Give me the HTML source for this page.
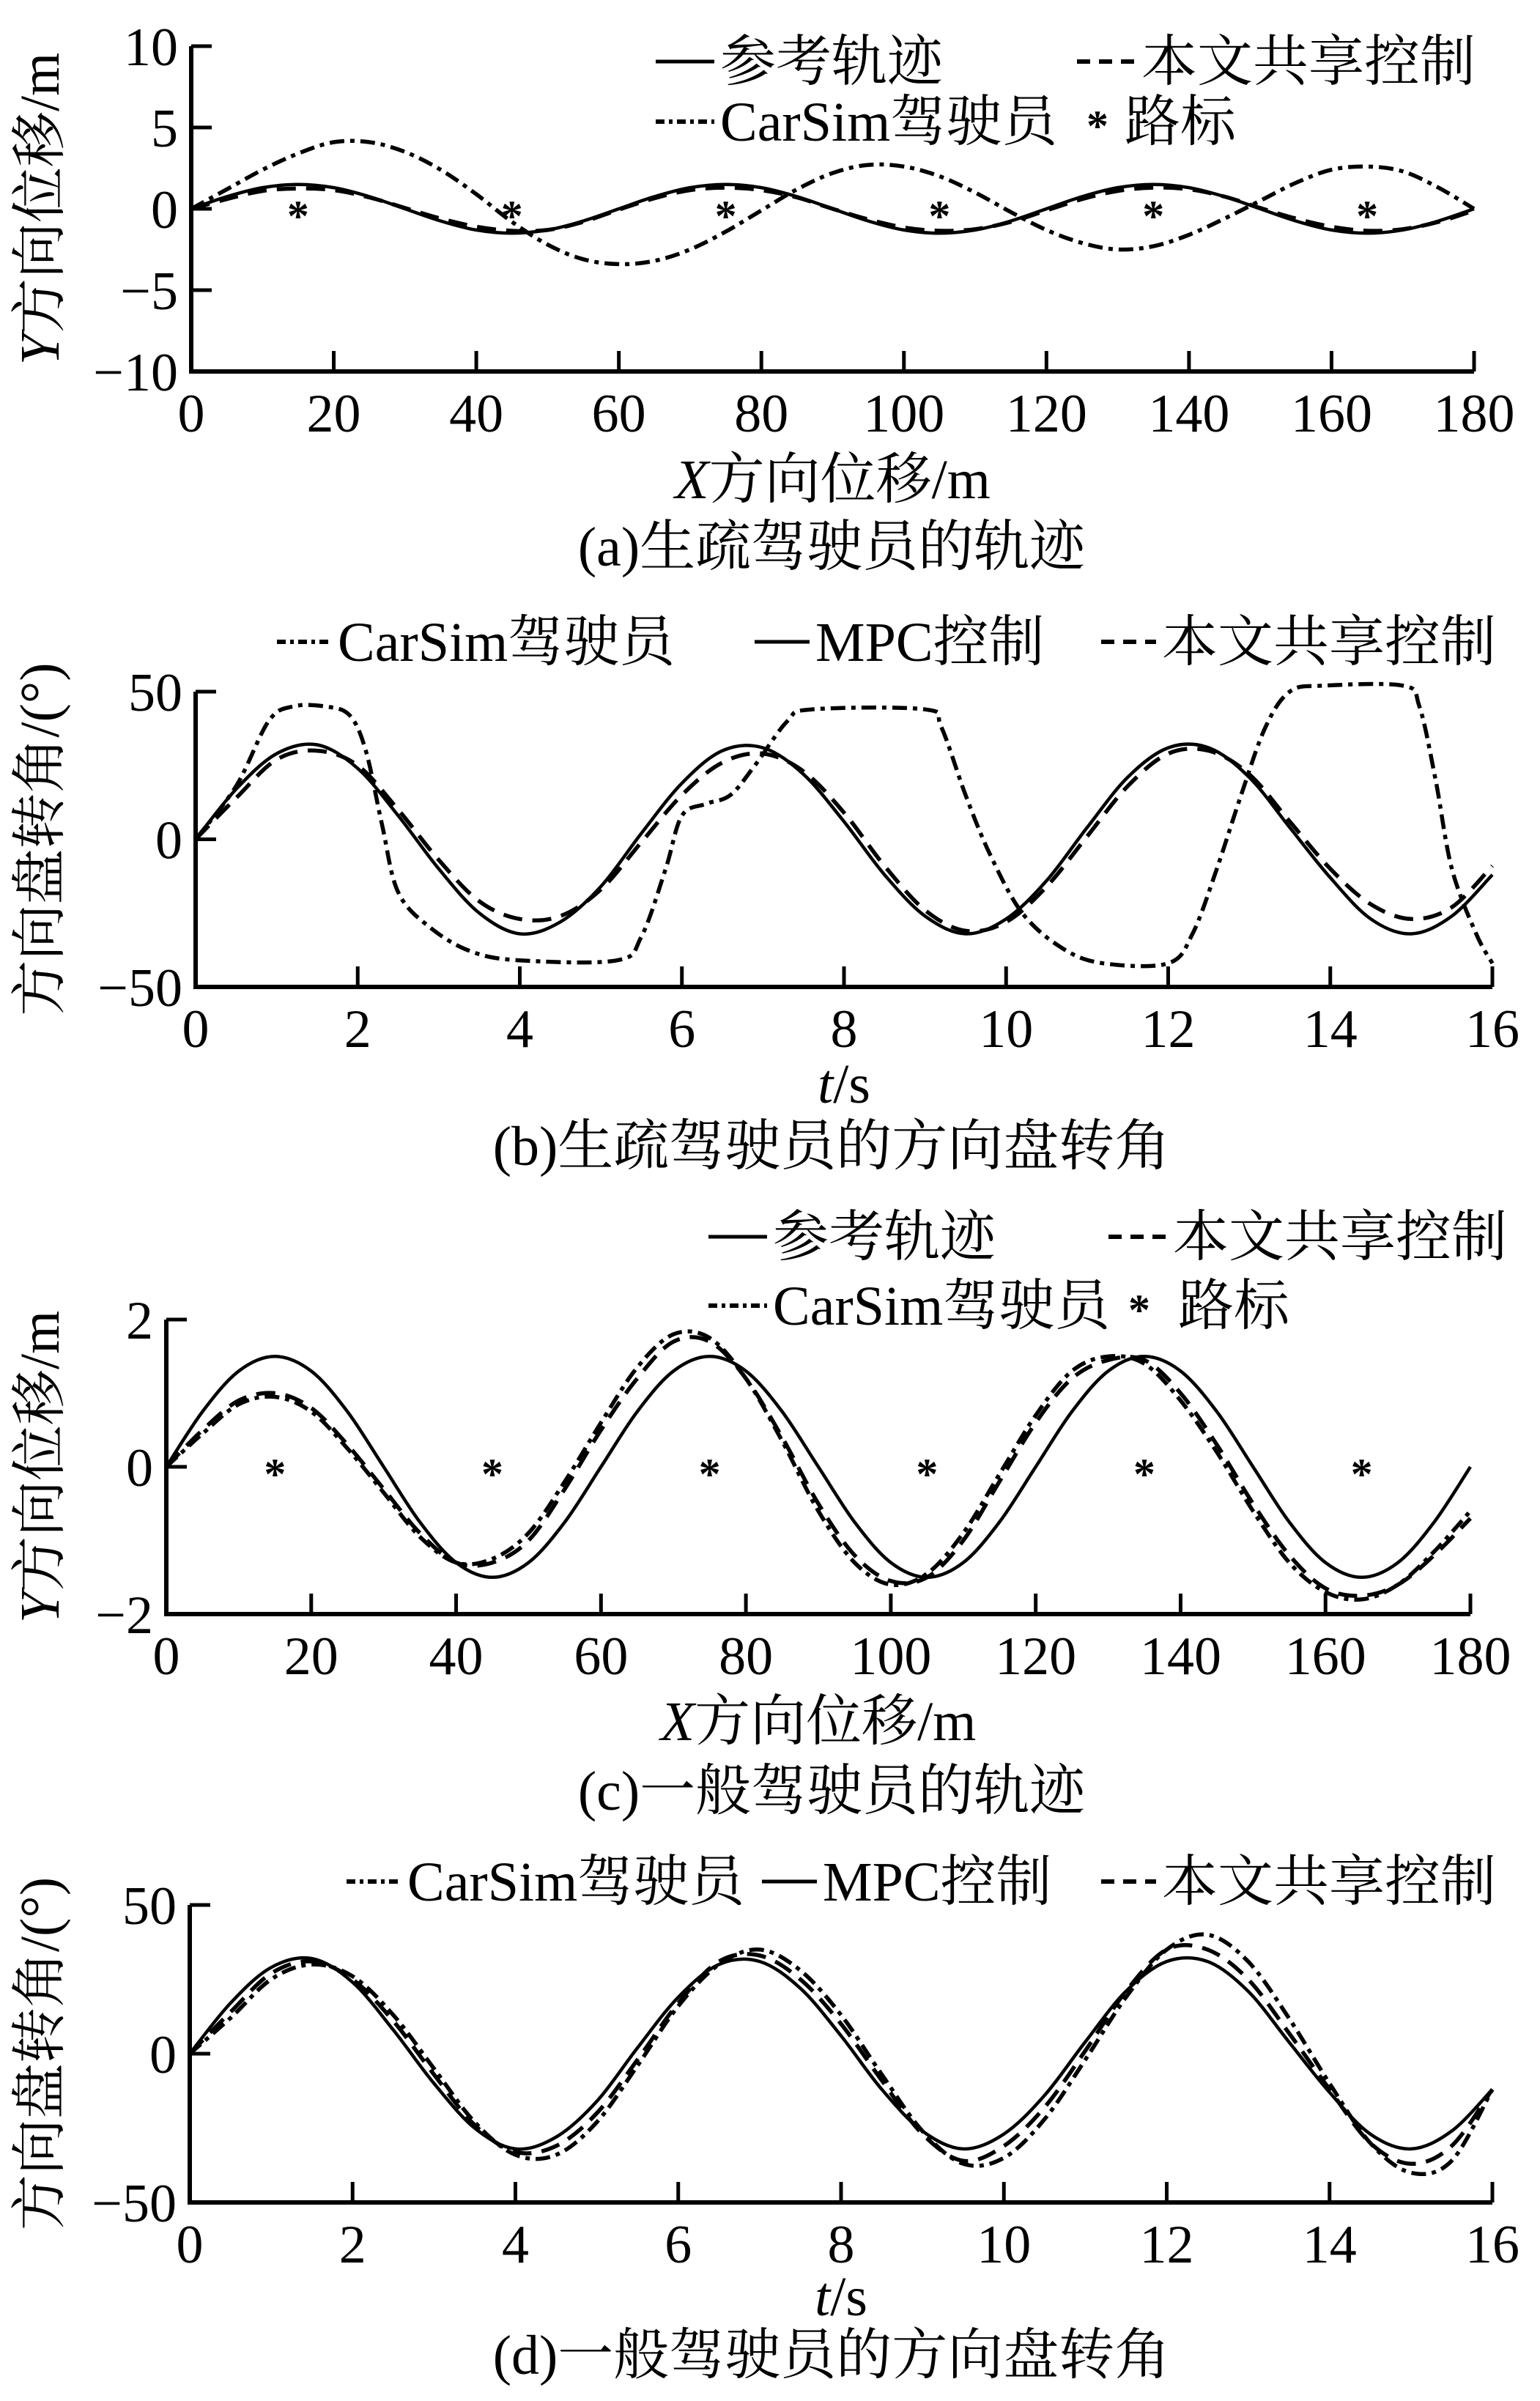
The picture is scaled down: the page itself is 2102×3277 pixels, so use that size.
<!DOCTYPE html>
<html><head><meta charset="utf-8">
<style>
html,body{margin:0;padding:0;background:#fff;}
svg{display:block;}
text{font-family:"Liberation Serif","Noto Serif CJK SC",serif;fill:#000;}
</style></head>
<body>
<svg id="fig" xmlns="http://www.w3.org/2000/svg" width="2102" height="3277" viewBox="0 0 2102 3277"></svg>
<script>
// ---------- data ----------
const xTicksPos = [0,20,40,60,80,100,120,140,160,180];
const tTicks = [0,2,4,6,8,10,12,14,16];
const yTicksA = [10,5,0,-5,-10];
const yTicksB = [50,0,-50];
const yTicksC = [2,0,-2];
const xStep5 = [0,5,10,15,20,25,30,35,40,45,50,55,60,65,70,75,80,85,90,95,100,105,110,115,120,125,130,135,140,145,150,155,160,165,170,175,180];
const tStep05 = [0,0.5,1,1.5,2,2.5,3,3.5,4,4.5,5,5.5,6,6.5,7,7.5,8,8.5,9,9.5,10,10.5,11,11.5,12,12.5,13,13.5,14,14.5,15,15.5,16];
const waypointsX = [15,45,75,105,135,165];
const waypointsY = [0,0,0,0,0,0];

const refPath = [0,0.75,1.3,1.5,1.3,0.75,0,-0.75,-1.3,-1.5,-1.3,-0.75,0,0.75,1.3,1.5,1.3,0.75,0,-0.75,-1.3,-1.5,-1.3,-0.75,0,0.75,1.3,1.5,1.3,0.75,0,-0.75,-1.3,-1.5,-1.3,-0.75,0];
const sharedA = [0,0.6,1.1,1.25,1.15,0.7,0.05,-0.6,-1.1,-1.35,-1.3,-0.8,-0.05,0.65,1.15,1.3,1.15,0.7,0,-0.65,-1.15,-1.35,-1.25,-0.8,-0.1,0.6,1.1,1.3,1.2,0.75,0.05,-0.6,-1.1,-1.35,-1.25,-0.8,-0.1];
const carsimA = [0,1.2,2.4,3.4,4.1,4.1,3.5,2.4,0.9,-0.8,-2.2,-3.1,-3.4,-3.2,-2.5,-1.4,-0.1,1.2,2.2,2.7,2.6,2.0,1.0,-0.2,-1.3,-2.1,-2.5,-2.3,-1.6,-0.6,0.5,1.6,2.4,2.6,2.3,1.3,0];

const mpcB = [0,17,29,32,24,8,-10,-25,-32,-28,-16,2,19,30,31,22,6,-12,-26,-32,-27,-14,4,21,31,31,21,4,-13,-27,-32,-26,-12];
const sharedB = [0,14,27,30,25,10,-7,-21,-27,-26,-17,-1,15,26,29,23,9,-9,-24,-31,-28,-16,1,18,29,30,22,6,-10,-22,-27,-23,-9];
const carsimBt = [0,0.5,0.9,1.2,1.6,1.9,2.1,2.3,2.5,2.9,3.4,4,5.2,5.5,5.8,6,6.3,6.6,6.9,7.3,7.6,9,9.2,9.5,9.8,10.2,10.7,11.2,12,12.3,12.6,12.9,13.2,13.5,13.9,14.9,15.1,15.3,15.5,15.8,16];
const carsimBv = [0,18,40,45,45,42,30,5,-18,-30,-38,-41,-41,-33,-10,8,12,15,25,40,44,44,38,15,-5,-25,-37,-42,-42,-32,-10,15,38,50,52,52,45,20,-10,-32,-42];

const sharedC = [0,0.5,0.9,1.0,0.8,0.3,-0.3,-0.9,-1.3,-1.3,-1.0,-0.3,0.5,1.2,1.7,1.7,1.2,0.4,-0.5,-1.2,-1.55,-1.5,-1.0,-0.2,0.6,1.2,1.45,1.45,1.0,0.3,-0.5,-1.2,-1.65,-1.75,-1.6,-1.2,-0.7];
const carsimC = [0,0.45,0.85,0.95,0.75,0.25,-0.35,-0.95,-1.3,-1.25,-0.9,-0.2,0.6,1.35,1.8,1.75,1.2,0.35,-0.6,-1.3,-1.6,-1.45,-0.9,-0.1,0.7,1.3,1.5,1.4,0.9,0.2,-0.6,-1.3,-1.7,-1.8,-1.6,-1.15,-0.6];

const mpcD = mpcB;
const sharedD = [0,14,27,31,25,11,-7,-24,-33,-31,-20,-2,17,31,33,25,10,-9,-27,-36,-31,-18,1,21,35,35,25,7,-12,-30,-37,-31,-12];
const carsimD = [0,12,25,30,26,13,-5,-23,-34,-34,-23,-4,16,30,35,28,13,-7,-26,-37,-35,-22,-2,19,35,40,31,12,-10,-30,-40,-36,-12];

// ---------- helpers ----------
const NS = "http://www.w3.org/2000/svg";
const svg = document.getElementById('fig');
function mk(tag, attrs, parent){
  const e = document.createElementNS(NS, tag);
  for (const k in attrs) e.setAttribute(k, attrs[k]);
  (parent||svg).appendChild(e);
  return e;
}
function smoothPath(pts){
  let d = "M"+pts[0][0].toFixed(1)+","+pts[0][1].toFixed(1);
  for (let i=0;i<pts.length-1;i++){
    const p0=pts[i-1]||pts[i], p1=pts[i], p2=pts[i+1], p3=pts[i+2]||p2;
    const c1=[p1[0]+(p2[0]-p0[0])/6, p1[1]+(p2[1]-p0[1])/6];
    const c2=[p2[0]-(p3[0]-p1[0])/6, p2[1]-(p3[1]-p1[1])/6];
    d+=" C"+c1[0].toFixed(1)+","+c1[1].toFixed(1)+" "+c2[0].toFixed(1)+","+c2[1].toFixed(1)+" "+p2[0].toFixed(1)+","+p2[1].toFixed(1);
  }
  return d;
}
const STY = {
  solid:{w:4.5,dash:""},
  dash:{w:5.5,dash:"26 14"},
  dashdot:{w:5.5,dash:"20 8 6 8"}
};
function addText(str, x, y, size, anchor, name, extra){
  const t = mk('text', Object.assign({x:x,y:y,'font-size':size,'text-anchor':anchor||'middle'}, extra||{}));
  
  
  t.textContent = str;
  return t;
}
function addRichText(italic, rest, x, y, size, anchor, name, extra){
  const t = mk('text', Object.assign({x:x,y:y,'font-size':size,'text-anchor':anchor||'middle'}, extra||{}));
  
  
  const a = mk('tspan',{'font-style':'italic'},t);
  a.textContent = italic;
  const b = mk('tspan',{},t);
  b.textContent = rest;
  return t;
}

function panel(cfg){
  const g = mk('g', {});
  
  
  const sx = v => cfg.x0 + (v-cfg.xmin)/(cfg.xmax-cfg.xmin)*(cfg.x1-cfg.x0);
  const sy = v => cfg.y1 + (v-cfg.ymin)/(cfg.ymax-cfg.ymin)*(cfg.y0-cfg.y1);
  const ax = mk('path', {d:`M${cfg.x0},${cfg.y0} L${cfg.x0},${cfg.y1} L${cfg.x1},${cfg.y1}`, fill:'none', stroke:'#000','stroke-width':6,'stroke-linejoin':'miter'}, g);
  
  
  cfg.xticks.forEach(v=>{
    const x = sx(v);
    if (v!==cfg.xmin){
      const tk = mk('line',{x1:x,y1:cfg.y1,x2:x,y2:cfg.y1-28,stroke:'#000','stroke-width':5},g);
      
      
    }
    addText(String(v), x, cfg.y1+82, 74, 'middle', 'x-tick-label');
  });
  cfg.yticks.forEach(v=>{
    const y = sy(v);
    if (v!==cfg.ymin){
      const tk = mk('line',{x1:cfg.x0,y1:y,x2:cfg.x0+28,y2:y,stroke:'#000','stroke-width':5},g);
      
      
    }
    addText(v<0 ? "−"+Math.abs(v) : String(v), cfg.x0-18, y+26, 74, 'end', 'y-tick-label');
  });
  cfg.series.forEach(s=>{
    const pts = s.x.map((xv,i)=>[sx(xv), sy(s.y[i])]);
    const st = STY[s.style];
    const p = mk('path',{d:smoothPath(pts),fill:'none',stroke:'#000','stroke-width':st.w,'stroke-dasharray':st.dash,'stroke-linejoin':'round'},g);
    
    
  });
  if (cfg.markers){
    cfg.markers.x.forEach((xv,i)=>{
      addText("*", sx(xv), sy(cfg.markers.y[i])+30, 60, 'middle', 'waypoint-marker', {'font-weight':'bold'});
    });
  }
  if (cfg.ylabelItalic) addRichText(cfg.ylabelItalic, cfg.ylabel, 0, 0, 76, 'middle', 'y-axis-title', {transform:`translate(${cfg.ylx},${(cfg.y0+cfg.y1)/2}) rotate(-90)`});
  else addText(cfg.ylabel, 0, 0, 76, 'middle', 'y-axis-title', {transform:`translate(${cfg.ylx},${(cfg.y0+cfg.y1)/2}) rotate(-90)`});
  addRichText(cfg.xlabelItalic, cfg.xlabel, (cfg.x0+cfg.x1)/2, cfg.xly, 76, 'middle', 'x-axis-title');
  addText(cfg.caption, cfg.capx, cfg.capy, 76, 'middle', 'panel-caption');
  cfg.legend.forEach(l=>{
    const st = STY[l.style];
    let dash = st.dash;
    if (l.style==='dash') dash = "18 12";
    if (l.style==='dashdot') dash = "12 6 5 6";
    if (l.len>0){
      const ln = mk('line',{x1:l.x,y1:l.y-26,x2:l.x+l.len,y2:l.y-26,stroke:'#000','stroke-width':l.style==='solid'?5:6,'stroke-dasharray':dash},g);
      
      
    }
    addText(l.text, l.x+l.len+8, l.y, 76, 'start', 'legend-entry');
  });
}

// Panel a
panel({name:'panel-a-trajectory', x0:261,x1:2012,y0:63,y1:507,xmin:0,xmax:180,ymin:-10,ymax:10,
  xticks:xTicksPos, yticks:yTicksA,
  series:[
    {name:'reference-path',x:xStep5,y:refPath,style:'solid'},
    {name:'shared-control-path',x:xStep5,y:sharedA,style:'dash'},
    {name:'carsim-driver-path',x:xStep5,y:carsimA,style:'dashdot'}],
  markers:{x:waypointsX,y:waypointsY},
  ylabelItalic:'Y', ylabel:'方向位移/m', ylx:80, xlabelItalic:'X', xlabel:'方向位移/m', xly:680, caption:'(a)生疏驾驶员的轨迹', capx:1135, capy:772,
  legend:[
    {text:'参考轨迹',x:895,y:110,len:80,style:'solid'},
    {text:'本文共享控制',x:1470,y:110,len:80,style:'dash'},
    {text:'CarSim驾驶员',x:895,y:192,len:80,style:'dashdot'},
    {text:'路标',x:1527,y:192,len:0,style:'solid'}]
});
addText("*",1498,192,60,'middle','legend-waypoint-symbol',{'font-weight':'bold'});

// Panel b
panel({name:'panel-b-steering', x0:267,x1:2037,y0:944,y1:1347,xmin:0,xmax:16,ymin:-50,ymax:50,
  xticks:tTicks, yticks:yTicksB,
  series:[
    {name:'mpc-steering',x:tStep05,y:mpcB,style:'solid'},
    {name:'shared-control-steering',x:tStep05,y:sharedB,style:'dash'},
    {name:'carsim-driver-steering',x:carsimBt,y:carsimBv,style:'dashdot'}],
  ylabel:'方向盘转角/(°)', ylx:80, xlabelItalic:'t', xlabel:'/s', xly:1505, caption:'(b)生疏驾驶员的方向盘转角', capx:1135, capy:1590,
  legend:[
    {text:'CarSim驾驶员',x:378,y:902,len:75,style:'dashdot'},
    {text:'MPC控制',x:1030,y:902,len:75,style:'solid'},
    {text:'本文共享控制',x:1503,y:902,len:75,style:'dash'}]
});

// Panel c
panel({name:'panel-c-trajectory', x0:227,x1:2007,y0:1801,y1:2203,xmin:0,xmax:180,ymin:-2,ymax:2,
  xticks:xTicksPos, yticks:yTicksC,
  series:[
    {name:'reference-path',x:xStep5,y:refPath,style:'solid'},
    {name:'shared-control-path',x:xStep5,y:sharedC,style:'dash'},
    {name:'carsim-driver-path',x:xStep5,y:carsimC,style:'dashdot'}],
  markers:{x:waypointsX,y:waypointsY},
  ylabelItalic:'Y', ylabel:'方向位移/m', ylx:80, xlabelItalic:'X', xlabel:'方向位移/m', xly:2375, caption:'(c)一般驾驶员的轨迹', capx:1135, capy:2470,
  legend:[
    {text:'参考轨迹',x:967,y:1714,len:80,style:'solid'},
    {text:'本文共享控制',x:1513,y:1714,len:80,style:'dash'},
    {text:'CarSim驾驶员',x:967,y:1808,len:80,style:'dashdot'},
    {text:'路标',x:1600,y:1808,len:0,style:'solid'}]
});
addText("*",1555,1808,60,'middle','legend-waypoint-symbol',{'font-weight':'bold'});

// Panel d
panel({name:'panel-d-steering', x0:259,x1:2037,y0:2600,y1:3006,xmin:0,xmax:16,ymin:-50,ymax:50,
  xticks:tTicks, yticks:yTicksB,
  series:[
    {name:'mpc-steering',x:tStep05,y:mpcD,style:'solid'},
    {name:'shared-control-steering',x:tStep05,y:sharedD,style:'dash'},
    {name:'carsim-driver-steering',x:tStep05,y:carsimD,style:'dashdot'}],
  ylabel:'方向盘转角/(°)', ylx:80, xlabelItalic:'t', xlabel:'/s', xly:3160, caption:'(d)一般驾驶员的方向盘转角', capx:1135, capy:3240,
  legend:[
    {text:'CarSim驾驶员',x:473,y:2594,len:75,style:'dashdot'},
    {text:'MPC控制',x:1040,y:2594,len:75,style:'solid'},
    {text:'本文共享控制',x:1503,y:2594,len:75,style:'dash'}]
});
</script>
</body></html>
